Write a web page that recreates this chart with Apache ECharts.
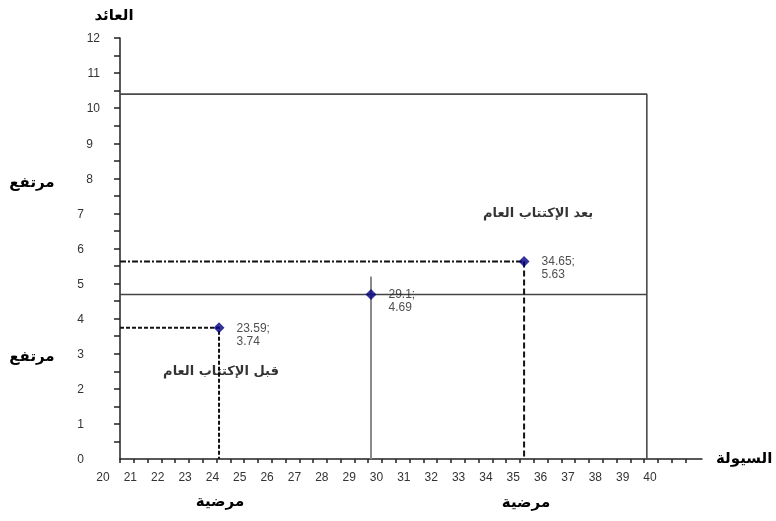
<!DOCTYPE html>
<html><head><meta charset="utf-8">
<script src="https://cdn.jsdelivr.net/npm/echarts@6/dist/echarts.min.js"></script>
<style>html,body{margin:0;padding:0;background:#fff}#c{width:776px;height:521px}</style>
</head><body><div id="c"></div>
<script>
// ---- data ----
const pointX = [23.59, 29.1, 34.65];
const pointY = [3.74, 4.69, 5.63];
const phaseNames = ['قبل الإكتتاب العام', '', 'بعد الإكتتاب العام'];
const xTickLabels = [20,21,22,23,24,25,26,27,28,29,30,31,32,33,34,35,36,37,38,39,40];
const yTickLabels = [0,1,2,3,4,5,6,7,8,9,10,11,12];
const xMinorTicks = [20,20.5,21,21.5,22,22.5,23,23.5,24,24.5,25,25.5,26,26.5,27,27.5,28,28.5,29,29.5,30,30.5,31,31.5,32,32.5,33,33.5,34,34.5,35,35.5,36,36.5,37,37.5,38,38.5,39,39.5,40,40.5];
const yMinorTicks = [0.5,1,1.5,2,2.5,3,3.5,4,4.5,5,5.5,6,6.5,7,7.5,8,8.5,9,9.5,10,10.5,11,11.5,12];
const frameTop = 10.4, frameRight = 39.1;
const midLineY = 4.69;
const midLineX = 29.1, midLineTop = 5.2;
const xName = 'السيولة', yName = 'العائد';
const rowNote = 'مرتفع', colNote = 'مرضية';

const ar = '"DejaVu Sans"';
const num = '"Liberation Sans", Arial, sans-serif';

const chart = echarts.init(document.getElementById('c'), null, {renderer: 'canvas'});

function lineSeries(data, color, width, type) {
  return {type: 'line', xAxisIndex: 0, yAxisIndex: 0, data, symbol: 'none', silent: true,
    lineStyle: {color, width, type: type || 'solid'}, z: 2};
}

const yRich = {
  a: {fontSize: 12, fontFamily: num, color: '#333', padding: [2, 0, 0, 0]},
  b: {fontSize: 12, fontFamily: num, color: '#333', padding: [2, 7, 0, 0]},
  c: {fontSize: 12, fontFamily: num, color: '#333', padding: [2, 16, 0, 0]}
};

chart.setOption({
  animation: false,
  backgroundColor: '#fff',
  grid: [
    {left: 120, top: 38, width: 582, height: 421},
    {left: 103, top: 38, width: 547, height: 421}
  ],
  xAxis: [
    {type: 'value', gridIndex: 0, min: 20, max: 41.1,
      name: xName, nameLocation: 'end', nameGap: 14,
      nameTextStyle: {fontFamily: ar, fontWeight: 'bold', fontSize: 15, color: '#000'},
      axisLine: {show: true, onZero: false, lineStyle: {color: '#222', width: 1.5}},
      axisTick: {show: true, inside: false, length: 4, customValues: xMinorTicks, lineStyle: {color: '#222', width: 1.5}},
      axisLabel: {show: false}, splitLine: {show: false}},
    {type: 'value', gridIndex: 1, min: 20, max: 40,
      axisLine: {show: false}, axisTick: {show: false}, splitLine: {show: false},
      axisLabel: {show: true, customValues: xTickLabels, margin: 13, fontSize: 12, fontFamily: num, color: '#333'}}
  ],
  yAxis: [
    {type: 'value', gridIndex: 0, min: 0, max: 12,
      name: yName, nameLocation: 'end', nameGap: 14,
      nameTextStyle: {fontFamily: ar, fontWeight: 'bold', fontSize: 15, color: '#000', padding: [0, 12, 0, 0]},
      axisLine: {show: true, onZero: false, lineStyle: {color: '#222', width: 1.5}},
      axisTick: {show: true, inside: false, length: 6, customValues: yMinorTicks, lineStyle: {color: '#222', width: 1.5}},
      axisLabel: {show: true, customValues: yTickLabels, margin: 20,
        formatter: v => v >= 10 ? '{a|' + v + '}' : (v >= 8 ? '{b|' + v + '}' : '{c|' + v + '}'),
        rich: yRich},
      splitLine: {show: false}},
    {type: 'value', gridIndex: 1, min: 0, max: 12, show: false}
  ],
  series: [
    lineSeries([[20, frameTop], [frameRight, frameTop], [frameRight, 0]], '#4a4a4a', 1.6),
    lineSeries([[20, midLineY], [frameRight, midLineY]], '#444', 1.4),
    lineSeries([[midLineX, 0], [midLineX, midLineTop]], '#8a8a8a', 2),
    lineSeries([[20, pointY[0]], [pointX[0], pointY[0]], [pointX[0], 0]], '#111', 2, [4, 2]),
    lineSeries([[20, pointY[2]], [pointX[2], pointY[2]]], '#111', 2, [6, 2, 2, 2]),
    lineSeries([[pointX[2], pointY[2]], [pointX[2], 0]], '#111', 2, [6, 3]),
    {type: 'scatter', xAxisIndex: 0, yAxisIndex: 0, z: 5,
      data: pointX.map((x, i) => [x, pointY[i]]),
      symbol: 'diamond', symbolSize: 11,
      itemStyle: {color: '#000080'},
      label: {show: true, position: 'right', distance: 12, offset: [0, 7],
        formatter: p => p.value[0] + ';\n' + p.value[1],
        fontSize: 12, lineHeight: 13, fontFamily: num, color: '#222', align: 'left'}},
    {type: 'scatter', xAxisIndex: 0, yAxisIndex: 0, z: 4, silent: true,
      data: pointX.map((x, i) => ({value: [x, pointY[i]], name: phaseNames[i],
        label: {offset: i === 0 ? [2, 44] : [14, -48]}})),
      symbolSize: 0,
      label: {show: true, position: 'inside', formatter: p => p.name,
        fontSize: 13, fontWeight: 'bold', fontFamily: ar, color: '#000'}}
  ],
  graphic: [
    {type: 'text', x: 32, y: 183, style: {text: rowNote, font: 'bold 15px ' + ar, fill: '#000', textAlign: 'center', textVerticalAlign: 'middle', align: 'center', verticalAlign: 'middle'}},
    {type: 'text', x: 32, y: 357, style: {text: rowNote, font: 'bold 15px ' + ar, fill: '#000', textAlign: 'center', textVerticalAlign: 'middle', align: 'center', verticalAlign: 'middle'}},
    {type: 'text', x: 220, y: 502, style: {text: colNote, font: 'bold 15px ' + ar, fill: '#000', textAlign: 'center', textVerticalAlign: 'middle', align: 'center', verticalAlign: 'middle'}},
    {type: 'text', x: 526, y: 503, style: {text: colNote, font: 'bold 15px ' + ar, fill: '#000', textAlign: 'center', textVerticalAlign: 'middle', align: 'center', verticalAlign: 'middle'}}
  ]
});
</script>
</body></html>
